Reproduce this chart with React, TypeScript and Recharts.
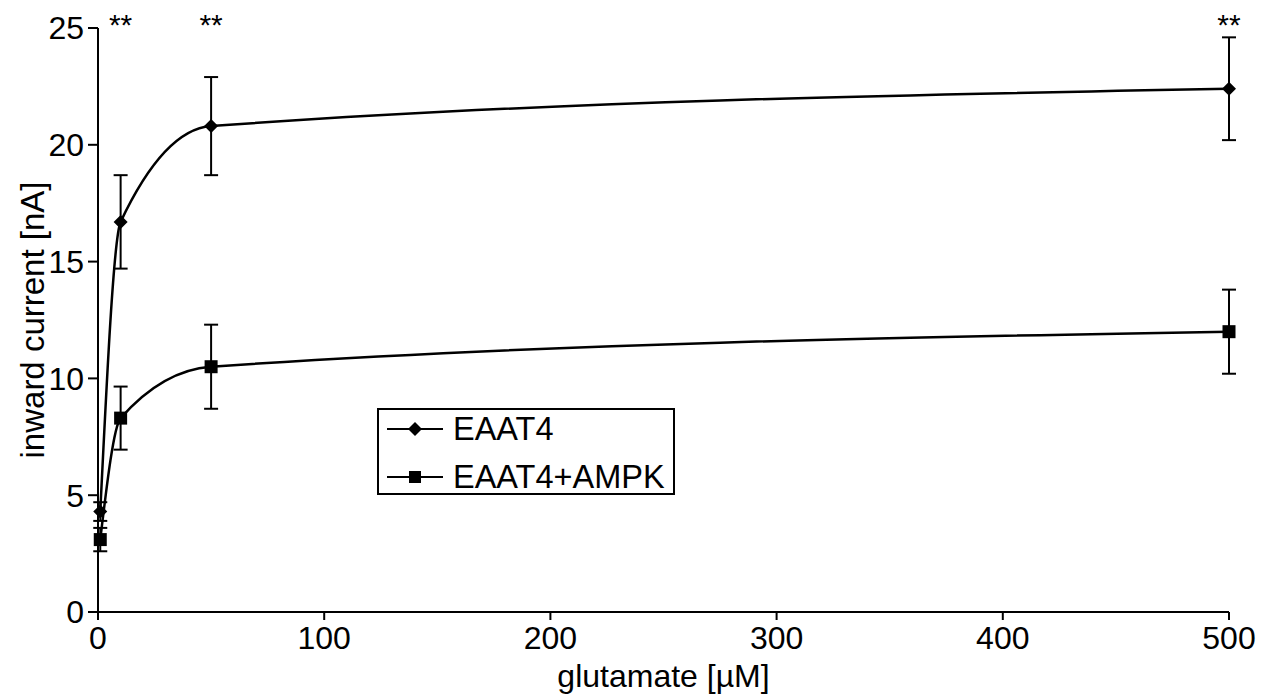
import {
  ComposedChart,
  ErrorBar,
  Legend,
  Line,
  Scatter,
  XAxis,
  YAxis,
} from "recharts";

// glutamate concentrations (µM)
const glutamate = [1, 10, 50, 500];
// inward current [nA], mean and error
const eaat4 = [4.3, 16.7, 20.8, 22.4];
const eaat4Err = [0.4, 2.0, 2.1, 2.2];
const eaat4Ampk = [3.1, 8.3, 10.5, 12.0];
const eaat4AmpkErr = [0.5, 1.35, 1.8, 1.8];
// significance marks
const starX = [10, 50, 500];
const starY = 25;

const xTicks = [0, 100, 200, 300, 400, 500];
const yTicks = [0, 5, 10, 15, 20, 25];

const FONT = "'Liberation Sans', Arial, sans-serif";

const eaat4Data = glutamate.map((x, i) => ({ x, y: eaat4[i], err: eaat4Err[i] }));
const ampkData = glutamate.map((x, i) => ({ x, y: eaat4Ampk[i], err: eaat4AmpkErr[i] }));
const starData = starX.map((x) => ({ x, y: starY }));

const Diamond = ({ cx, cy, size = 7 }: { cx?: number; cy?: number; size?: number }) => {
  if (cx == null || cy == null) return null;
  return (
    <path
      d={`M${cx},${cy - size} L${cx + size},${cy} L${cx},${cy + size} L${cx - size},${cy} Z`}
      fill="#000"
    />
  );
};

const Square = ({ cx, cy, size = 6.5 }: { cx?: number; cy?: number; size?: number }) => {
  if (cx == null || cy == null) return null;
  return <rect x={cx - size} y={cy - size} width={size * 2} height={size * 2} fill="#000" />;
};

const Stars = ({ cx, cy }: { cx?: number; cy?: number }) => {
  if (cx == null || cy == null) return null;
  return (
    <text x={cx} y={cy + 7} textAnchor="middle" fontSize={30} fontFamily={FONT} fill="#000">
      **
    </text>
  );
};

const LegendBox = () => {
  const rows = [
    { name: "EAAT4", marker: "diamond" },
    { name: "EAAT4+AMPK", marker: "square" },
  ];
  return (
    <div
      style={{
        width: 294,
        height: 83,
        border: "2px solid #000",
        background: "#fff",
        fontFamily: FONT,
        fontSize: 32.5,
        color: "#000",
        position: "relative",
      }}
    >
      {rows.map((r, i) => (
        <div
          key={r.name}
          style={{
            position: "absolute",
            left: 0,
            top: i === 0 ? 0 : 48,
            height: 38,
            display: "flex",
            alignItems: "center",
          }}
        >
          <svg width={74} height={38}>
            <line x1={8} x2={64} y1={19} y2={19} stroke="#000" strokeWidth={2} />
            {r.marker === "diamond" ? (
              <Diamond cx={36} cy={19} size={7} />
            ) : (
              <Square cx={36} cy={19} size={6} />
            )}
          </svg>
          <span style={{ lineHeight: "38px" }}>{r.name}</span>
        </div>
      ))}
    </div>
  );
};

export default function App() {
  return (
    <div style={{ position: "absolute", left: 0, top: 0, background: "#fff" }}>
      <ComposedChart
        width={1275}
        height={696}
        margin={{ top: 28, right: 46, bottom: 14, left: 0 }}
      >
        <XAxis
          type="number"
          dataKey="x"
          domain={[0, 500]}
          ticks={xTicks}
          tickSize={8}
          tickMargin={6}
          height={70}
          stroke="#000"
          strokeWidth={2}
          tick={{ fontSize: 32, fontFamily: FONT, fill: "#000" }}
          label={{
            value: "glutamate [µM]",
            position: "insideBottom",
            offset: -5,
            style: { fontSize: 32, fontFamily: FONT, fill: "#000" },
          }}
        />
        <YAxis
          type="number"
          domain={[0, 25]}
          ticks={yTicks}
          width={98}
          tickSize={10}
          tickMargin={4}
          stroke="#000"
          strokeWidth={2}
          tick={{ fontSize: 32, fontFamily: FONT, fill: "#000" }}
          label={{
            value: "inward current [nA]",
            angle: -90,
            position: "insideLeft",
            offset: 32,
            style: { textAnchor: "middle", fontSize: 33, fontFamily: FONT, fill: "#000" },
          }}
        />
        <Legend
          layout="horizontal"
          align="center"
          verticalAlign="middle"
          content={<LegendBox />}
          wrapperStyle={{ left: 377, top: 408, width: 298, height: 87 }}
        />
        <Line
          data={eaat4Data}
          dataKey="y"
          name="EAAT4"
          type="monotone"
          stroke="#000"
          strokeWidth={2.5}
          dot={<Diamond />}
          activeDot={false}
          isAnimationActive={false}
        >
          <ErrorBar dataKey="err" direction="y" width={7} stroke="#000" strokeWidth={2} />
        </Line>
        <Line
          data={ampkData}
          dataKey="y"
          name="EAAT4+AMPK"
          type="monotone"
          stroke="#000"
          strokeWidth={2.5}
          dot={<Square />}
          activeDot={false}
          isAnimationActive={false}
        >
          <ErrorBar dataKey="err" direction="y" width={7} stroke="#000" strokeWidth={2} />
        </Line>
        <Scatter
          data={starData}
          dataKey="y"
          shape={<Stars />}
          legendType="none"
          isAnimationActive={false}
        />
      </ComposedChart>
    </div>
  );
}
